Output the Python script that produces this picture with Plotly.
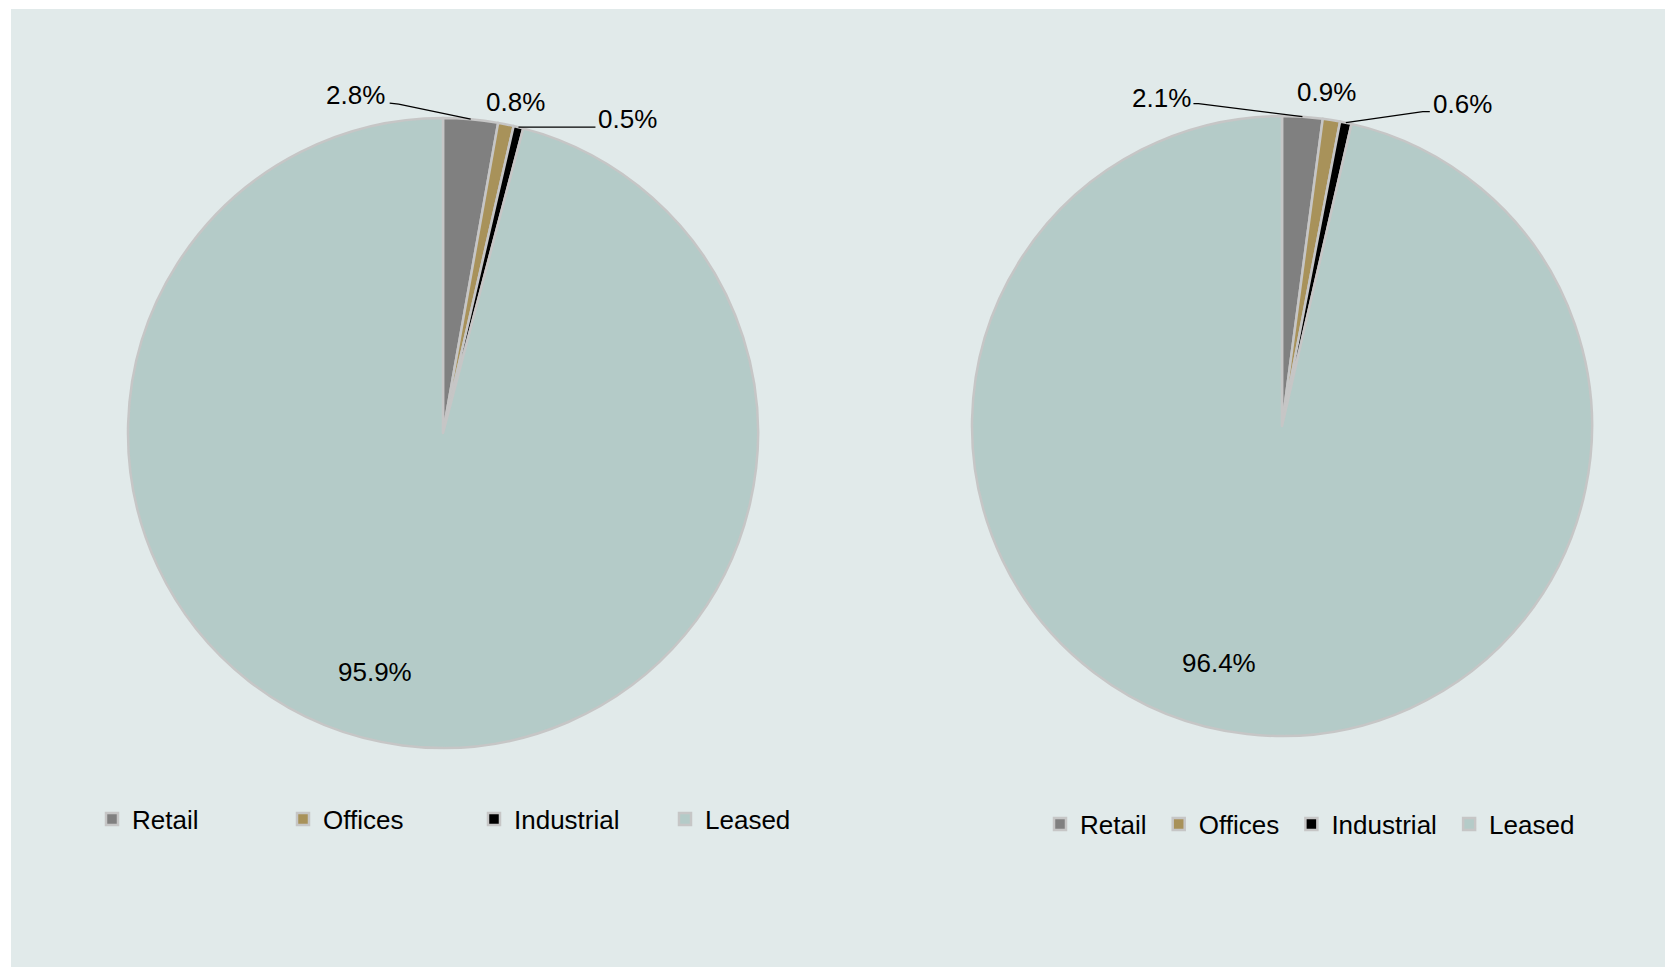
import math
import plotly.graph_objects as go

W, H = 1665, 967

# Categories and shares (%) for the two pies
categories = ["Retail", "Offices", "Industrial", "Leased"]
left_values = [2.8, 0.8, 0.5, 95.9]
right_values = [2.1, 0.9, 0.6, 96.4]
left_labels = ["2.8%", "0.8%", "0.5%", "95.9%"]
right_labels = ["2.1%", "0.9%", "0.6%", "96.4%"]

colors = ["#808080", "#A8925A", "#000000", "#B4CBC8"]
edge_col = "#C6C6C6"
bg_col = "#E1EAEA"
FONT = "Liberation Sans, Arial, sans-serif"
FS = 26

# pie geometry in pixels: centre x, centre y, radius
left_geo = (443, 433, 315)
right_geo = (1282, 426, 310)

# label placement styles: text offset from slice edge point, optional leader (elbow, end)
left_style = [
    dict(text=(-115, -24), leader=[(-72, -15), (-81, -16)]),
    dict(text=(10, -22), leader=None),
    dict(text=(109, -8), leader=[(77, 0)]),
]
right_style = [
    dict(text=(-141, -19), leader=[(-104, -13), (-109, -13)]),
    dict(text=(-5, -28), leader=None),
    dict(text=(117, -19), leader=[(77, -11), (84, -11)]),
]


def px(x):
    return x / W


def py(y):
    return 1 - y / H


def domain(geo):
    cx, cy, r = geo
    return dict(x=[px(cx - r), px(cx + r)], y=[py(cy + r), py(cy - r)])


def edge_point(geo, frac, rad=1.0):
    cx, cy, r = geo
    a = 2 * math.pi * frac
    return cx + rad * r * math.sin(a), cy - rad * r * math.cos(a)


fig = go.Figure()
# the second pie gets its own legend; a trailing space keeps its entries distinct
for vals, geo, lg, suffix in [(left_values, left_geo, "legend", ""),
                              (right_values, right_geo, "legend2", " ")]:
    fig.add_trace(go.Pie(
        labels=[c + suffix for c in categories], values=vals, sort=False,
        direction="clockwise", rotation=0, textinfo="none", domain=domain(geo), legend=lg,
        marker=dict(colors=colors, line=dict(color=edge_col, width=2.5)),
        hoverinfo="label+percent",
    ))

annotations = []
shapes = [dict(type="rect", xref="paper", yref="paper", x0=px(11), x1=1, y0=0, y1=py(9),
               fillcolor=bg_col, line=dict(width=0), layer="below")]

for vals, texts, geo, style in [(left_values, left_labels, left_geo, left_style),
                                (right_values, right_labels, right_geo, right_style)]:
    total = sum(vals)
    cum = 0.0
    for i, v in enumerate(vals):
        mid = (cum + v / 2) / total
        cum += v
        if i < 3:
            ex, ey = edge_point(geo, mid)
            st = style[i]
            tx, ty = ex + st["text"][0], ey + st["text"][1]
            if st["leader"]:
                pts = [(ex, ey)] + [(ex + dx, ey + dy) for dx, dy in st["leader"]]
                path = "M " + " L ".join(f"{px(a)},{py(b)}" for a, b in pts)
                shapes.append(dict(type="path", xref="paper", yref="paper", path=path,
                                   line=dict(color="#000000", width=1.3)))
        else:
            # large slice label sits inside, a little past the bisector
            tx, ty = edge_point(geo, mid + 8.5 / 360, rad=0.79)
        annotations.append(dict(x=px(tx), y=py(ty), xref="paper", yref="paper",
                                text=texts[i], showarrow=False, xanchor="center",
                                yanchor="middle", font=dict(size=FS, color="#000000")))

legend_common = dict(orientation="h", bgcolor="rgba(0,0,0,0)", font=dict(size=FS, color="#000000"),
                     xanchor="left", yanchor="middle", itemclick=False, itemdoubleclick=False)

fig.update_layout(
    width=W, height=H, autosize=False,
    margin=dict(l=0, r=0, t=0, b=0),
    paper_bgcolor="#FFFFFF", plot_bgcolor="#FFFFFF",
    font=dict(family=FONT, size=FS, color="#000000"),
    legend=dict(x=px(92), y=py(819), entrywidth=146, **legend_common),
    legend2=dict(x=px(1040), y=py(824), **legend_common),
    annotations=annotations, shapes=shapes,
)

fig.write_html("out.html")
